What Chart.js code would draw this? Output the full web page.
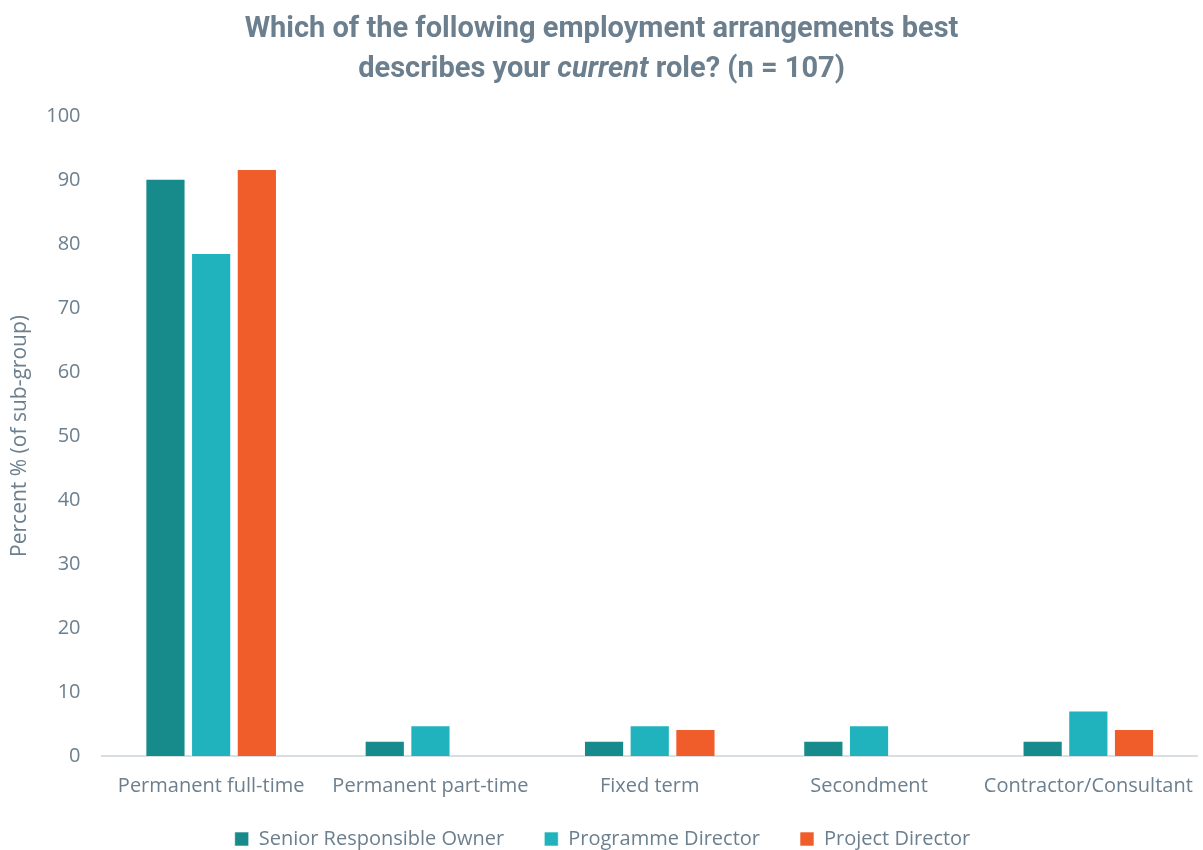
<!DOCTYPE html>
<html>
<head>
<meta charset="utf-8">
<script src="https://cdn.jsdelivr.net/npm/chart.js@4"></script>
<style>
  body { margin: 0; background: #fff; }
  #wrap { position: relative; width: 1203px; height: 850px; }
  #title {
    position: absolute; left: 0; top: 7px; width: 1203px; text-align: center;
    font-family: "Liberation Sans Narrow", "Roboto", sans-serif; font-weight: bold;
    font-size: 29px; line-height: 40px; color: #6B7F8E;
  }
</style>
</head>
<body>
<div id="wrap">
  <div id="title">Which of the following employment arrangements best<br>describes your <i>current</i> role? (n = 107)</div>
  <canvas id="chart" width="1203" height="850"></canvas>
</div>
<script>
const categories = ['Permanent full-time', 'Permanent part-time', 'Fixed term', 'Secondment', 'Contractor/Consultant'];
const seniorOwner = [90.2, 2.4, 2.4, 2.4, 2.4];
const programmeDirector = [78.6, 4.8, 4.8, 4.8, 7.1];
const projectDirector = [91.7, 0, 4.2, 0, 4.2];
const yTicks = [0, 10, 20, 30, 40, 50, 60, 70, 80, 90, 100];

const textColor = '#6B7F8E';
const font = { family: '"Open Sans", sans-serif', size: 20 };

// pull the legend closer to the axis without losing the wide gaps between items
const legendTweak = {
    id: 'legendTweak',
    afterInit(chart) {
        const lg = chart.legend;
        const fit = lg.fit, draw = lg.draw;
        lg.fit = function () { fit.call(this); this.height -= 28; };
        lg.draw = function () { this.top -= 19; draw.call(this); this.top += 19; };
    }
};

const ctx = document.getElementById('chart').getContext('2d');
new Chart(ctx, {
    type: 'bar',
    data: {
        labels: categories,
        datasets: [
            { label: 'Senior Responsible Owner', data: seniorOwner, backgroundColor: '#178A8C' },
            { label: 'Programme Director', data: programmeDirector, backgroundColor: '#20B3BE' },
            { label: 'Project Director', data: projectDirector, backgroundColor: '#F05C2A' }
        ]
    },
    options: {
        responsive: false,
        animation: false,
        layout: { padding: { top: 116, right: 2, left: 4, bottom: 0 } },
        datasets: { bar: { categoryPercentage: 0.625, barPercentage: 0.88, borderWidth: 1, borderColor: 'rgba(255,255,255,0.6)' } },
        scales: {
            y: {
                min: 0, max: 100,
                afterBuildTicks: axis => { axis.ticks = yTicks.map(v => ({ value: v })); },
                grid: { display: false },
                border: { display: false },
                ticks: { color: textColor, font: font, padding: 13 },
                title: { display: true, text: 'Percent % (of sub-group)', color: textColor, font: { family: font.family, size: 21 }, padding: { top: 3, bottom: 1 } }
            },
            x: {
                grid: { display: false },
                border: { color: '#D9DEE3', width: 2 },
                ticks: { color: textColor, font: font, padding: 10, maxRotation: 0 }
            }
        },
        plugins: {
            legend: {
                position: 'bottom',
                labels: { color: textColor, font: font, boxWidth: 14, boxHeight: 14, padding: 40 }
            },
            tooltip: { enabled: false }
        }
    },
    plugins: [legendTweak]
});
</script>
</body>
</html>
